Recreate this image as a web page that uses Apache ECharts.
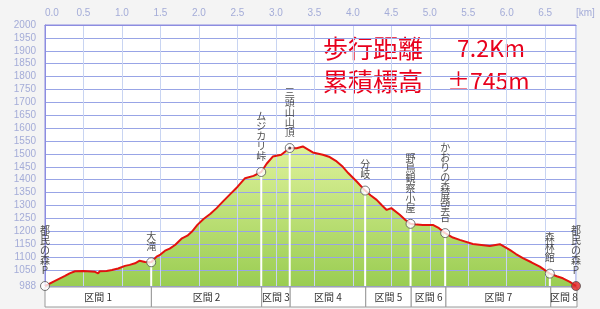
<!DOCTYPE html>
<html>
<head>
<meta charset="utf-8">
<script src="https://cdn.jsdelivr.net/npm/echarts@6/dist/echarts.min.js"></script>
<style>
html,body{margin:0;padding:0;background:#f4f4f4;}
#c{width:600px;height:309px;}
</style>
</head>
<body>
<div id="c"></div>
<script>
// ---- data ----
const dist = [0, 0.13, 0.26, 0.32, 0.39, 0.50, 0.65, 0.69, 0.71, 0.80, 0.87, 0.95, 1.04, 1.10, 1.17, 1.23, 1.30, 1.38, 1.45, 1.50, 1.56, 1.62, 1.69, 1.78, 1.85, 1.91, 1.98, 2.06, 2.15, 2.23, 2.32, 2.42, 2.50, 2.60, 2.71, 2.81, 2.88, 2.96, 3.07, 3.18, 3.27, 3.35, 3.42, 3.48, 3.61, 3.70, 3.79, 3.87, 3.94, 4.05, 4.16, 4.23, 4.31, 4.38, 4.44, 4.50, 4.61, 4.68, 4.75, 4.83, 4.91, 5.04, 5.12, 5.20, 5.30, 5.39, 5.56, 5.67, 5.78, 5.91, 6.04, 6.12, 6.21, 6.32, 6.43, 6.56, 6.65, 6.73, 6.82, 6.90];
const elev = [988, 1008, 1027, 1037, 1045, 1046, 1043, 1037, 1045, 1046, 1050, 1056, 1066, 1070, 1076, 1086, 1081, 1080, 1102, 1110, 1125, 1133, 1147, 1173, 1183, 1199, 1225, 1248, 1268, 1290, 1318, 1348, 1372, 1406, 1415, 1430, 1462, 1490, 1497, 1523, 1522, 1529, 1517, 1506, 1497, 1488, 1471, 1450, 1426, 1393, 1358, 1340, 1322, 1300, 1283, 1290, 1264, 1245, 1229, 1226, 1225, 1225, 1212, 1193, 1176, 1167, 1151, 1147, 1143, 1150, 1128, 1112, 1096, 1080, 1063, 1036, 1026, 1018, 1004, 988];

const wpNames = ['都民の森P', '大滝', 'ムジカリ峠', '三頭山山頂', '分岐', '野鳥観察小屋', 'かおりの森展望台', '森林館', '都民の森P'];
const wpDist = [0, 1.38, 2.81, 3.18, 4.16, 4.75, 5.20, 6.56, 6.90];
const wpElev = [988, 1080, 1430, 1523, 1358, 1229, 1193, 1036, 988];

const sectionNames = ['区間 1', '区間 2', '区間 3', '区間 4', '区間 5', '区間 6', '区間 7', '区間 8'];

const yTicks = [988, 1050, 1100, 1150, 1200, 1250, 1300, 1350, 1400, 1450, 1500, 1550, 1600, 1650, 1700, 1750, 1800, 1850, 1900, 1950, 2000];
const xMin = 0, xMax = 6.9, xStep = 0.5;
const yMin = 988, yMax = 2000;

const summaryLabels = ['歩行距離', '累積標高'];
const summaryValues = ['7.2Km', '±745m'];

// ---- chart ----
const profile = dist.map((d, i) => [d, elev[i]]);
const waypoints = wpDist.map((d, i) => [d, wpElev[i], i]);
const sections = sectionNames.map((n, i) => [wpDist[i], wpDist[i + 1], i]);

const chart = echarts.init(document.getElementById('c'), null, {renderer: 'canvas'});
const axisColor = '#8c8ce0';
const labelColor = '#a4acd8';
const fontUI = 'Liberation Sans, DejaVu Sans, sans-serif';
const fontJP = '"Noto Sans CJK JP", sans-serif';

chart.setOption({
  animation: false,
  backgroundColor: '#f4f4f4',
  grid: [
    {left: 45, right: 24, top: 25, bottom: 23, show: true, backgroundColor: '#ffffff', borderColor: axisColor, borderWidth: 1},
    {left: 45, right: 23, top: 287, bottom: 2}
  ],
  xAxis: [
    {
      type: 'value', gridIndex: 0, position: 'top', min: xMin, max: xMax, interval: xStep, z: 2,
      axisLine: {show: true, lineStyle: {color: axisColor, width: 1}},
      axisTick: {show: false},
      splitLine: {show: true, lineStyle: {color: '#c8d4f2', width: 1}},
      axisLabel: {
        color: labelColor, fontSize: 10, fontFamily: fontUI, margin: 7,
        alignMinLabel: 'left', alignMaxLabel: 'left',
        formatter: v => (v > xMax - 0.01 ? '[km]' : v.toFixed(1))
      }
    },
    {type: 'value', gridIndex: 1, min: xMin, max: xMax, show: false}
  ],
  yAxis: [
    {
      type: 'value', gridIndex: 0, min: yMin, max: yMax, z: 2,
      axisLine: {show: true, lineStyle: {color: axisColor, width: 1}},
      axisTick: {show: false, customValues: yTicks},
      splitLine: {show: true, lineStyle: {color: '#98a4e6', width: 1}},
      axisLabel: {color: labelColor, fontSize: 10, fontFamily: fontUI, margin: 9, customValues: yTicks,
        formatter: v => String(Math.round(v))}
    },
    {type: 'value', gridIndex: 1, min: 0, max: 1, show: false}
  ],
  series: [
    {
      type: 'line', xAxisIndex: 0, yAxisIndex: 0, data: profile, z: 1,
      symbol: 'none', lineStyle: {width: 0, opacity: 0},
      areaStyle: {
        opacity: 1,
        color: new echarts.graphic.LinearGradient(0, 0, 0, 1, [
          {offset: 0, color: '#def29a'},
          {offset: 1, color: '#9acd52'}
        ])
      }
    },
    {
      type: 'custom', xAxisIndex: 0, yAxisIndex: 0, z: 3,
      data: waypoints.slice(1, waypoints.length - 1),
      renderItem: (params, api) => {
        const top = api.coord([api.value(0), api.value(1)]);
        const bot = api.coord([api.value(0), yMin]);
        return {type: 'line', shape: {x1: top[0], y1: top[1], x2: bot[0], y2: bot[1]}, style: {stroke: '#ffffff', lineWidth: 2}};
      }
    },
    {
      type: 'line', xAxisIndex: 0, yAxisIndex: 0, data: profile, z: 4,
      symbol: 'none', lineStyle: {color: '#e4120e', width: 2}
    },
    {
      type: 'scatter', xAxisIndex: 0, yAxisIndex: 0, z: 5,
      data: waypoints.map((w, i) => ({
        value: w,
        itemStyle: i === waypoints.length - 1
          ? {color: '#e42222', borderColor: '#555', borderWidth: 1}
          : {color: '#ffffff', borderColor: '#555', borderWidth: 1}
      })),
      symbol: 'circle', symbolSize: 9,
      label: {
        show: true, position: 'top', distance: 6,
        fontSize: 10, lineHeight: 10, color: '#222', fontFamily: fontJP,
        formatter: p => wpNames[p.value[2]].split('').join('\n')
      }
    },
    {
      type: 'scatter', xAxisIndex: 0, yAxisIndex: 0, z: 6,
      data: [[wpDist[3], wpElev[3]]], symbol: 'circle', symbolSize: 3,
      itemStyle: {color: '#333'}
    },
    {
      type: 'custom', xAxisIndex: 1, yAxisIndex: 1, data: sections,
      renderItem: (params, api) => {
        const p0 = api.coord([api.value(0), 1]);
        const p1 = api.coord([api.value(1), 0]);
        return {
          type: 'group',
          children: [
            {type: 'rect', shape: {x: p0[0], y: p0[1], width: p1[0] - p0[0], height: p1[1] - p0[1]},
             style: {fill: '#ffffff', stroke: '#9a9a9a', lineWidth: 1}},
            {type: 'text', style: {text: sectionNames[api.value(2)], x: (p0[0] + p1[0]) / 2, y: (p0[1] + p1[1]) / 2,
             align: 'center', verticalAlign: 'middle', fill: '#333', font: '10px ' + fontJP}}
          ]
        };
      }
    }
  ],
  graphic: [
    {type: 'text', left: 323, top: 36, style: {text: summaryLabels[0], fill: '#e8001c', font: '25px ' + fontJP}},
    {type: 'text', left: 457, top: 37, style: {text: summaryValues[0], fill: '#e8001c', font: '23px ' + fontJP}},
    {type: 'text', left: 323, top: 69, style: {text: summaryLabels[1], fill: '#e8001c', font: '25px ' + fontJP}},
    {type: 'text', left: 447, top: 70, style: {text: summaryValues[1], fill: '#e8001c', font: '23px ' + fontJP}}
  ]
});
</script>
</body>
</html>
